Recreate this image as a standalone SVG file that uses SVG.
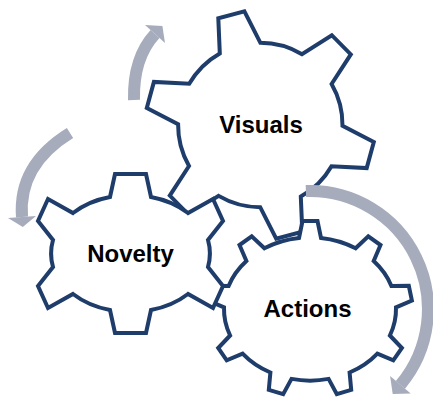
<svg xmlns="http://www.w3.org/2000/svg" width="433" height="400" viewBox="0 0 433 400">
<style>
.gear{fill:#ffffff;stroke:#1F3D6B;stroke-width:4;stroke-linejoin:miter}
.lbl{font-family:"Liberation Sans",Arial,sans-serif;font-weight:bold;font-size:24px;fill:#000000;text-anchor:middle}
.arc{fill:none;stroke:#A6ACBB;stroke-width:12;stroke-linecap:butt}
.head{fill:#A6ACBB}
</style>
<rect width="433" height="400" fill="#ffffff"/>
<g id="visuals">
<path class="gear" d="M219.8,53.4 L218.3,18.2 L244.4,11.3 L260.4,42.8 A82,82 0 0 1 302,54.2 L331.8,35.2 L350.8,54.4 L331.6,84 A82,82 0 0 1 342.5,125.7 L373.8,142.1 L366.7,168.1 L331.5,166.2 A82,82 0 0 1 300.8,196.6 L302.3,231.8 L276.2,238.7 L260.2,207.2 A82,82 0 0 1 218.6,195.9 L188.8,214.8 L169.8,195.6 L189,166 A82,82 0 0 1 178.1,124.3 L146.8,107.9 L153.9,81.9 L189.2,83.8 A82,82 0 0 1 219.8,53.4 Z"/>
<text class="lbl" x="261" y="133">Visuals</text>
</g>
<g id="actions">
<path class="gear" d="M299,238 L302.5,221 L317.5,221 L321,238 A85,71 0 0 1 355.6,248.3 L368.3,236.4 L380.5,245 L373.7,260.9 A85,71 0 0 1 391.4,285.9 L408.8,285.8 L411.9,300.5 L396,307.4 A85,71 0 0 1 389.9,335.5 L401.9,348 L393.3,360.3 L377.4,353.6 A85,71 0 0 1 349.6,372.5 L351.2,389.8 L336.8,394.2 L328.6,378.9 A85,71 0 0 1 291.5,378.9 L283.2,394.2 L268.8,389.8 L270.4,372.5 A85,71 0 0 1 242.6,353.6 L226.7,360.3 L218.2,348 L230.1,335.5 A85,71 0 0 1 224,307.4 L208.1,300.5 L211.2,285.8 L228.6,285.9 A85,71 0 0 1 246.4,260.9 L239.5,245 L251.7,236.4 L264.4,248.3 A85,71 0 0 1 299,238 Z"/>
<text class="lbl" x="307.5" y="317">Actions</text>
</g>
<g id="novelty">
<path class="gear" d="M110,197 L115,174 L146,174 L151,197 A79,62 0 0 1 188,213 L213,199 L223,221 L208,240 A79,62 0 0 1 208,267 L223,286 L213,308 L188,294 A79,62 0 0 1 151,310 L146,333 L115,333 L110,310 A79,62 0 0 1 73,294 L48,308 L38,286 L53,267 A79,62 0 0 1 53,240 L38,221 L48,199 L73,213 A79,62 0 0 1 110,197 Z"/>
<text class="lbl" x="130.5" y="262">Novelty</text>
</g>
<g id="connectors">
<path class="arc" d="M134,100 Q133,58 155,34"/>
<polygon class="head" points="145,24.9 162.4,25.9 165,43.1"/>
<path class="arc" d="M70,133 Q18,165 22,217"/>
<polygon class="head" points="36,215.9 22.8,227 8,218.1"/>
<path class="arc" d="M305.9,191.1 A118,118 0 0 1 400.4,384.8"/>
<polygon class="head" points="410.7,393.5 392.7,394 390.1,376.1"/>
</g>
</svg>
